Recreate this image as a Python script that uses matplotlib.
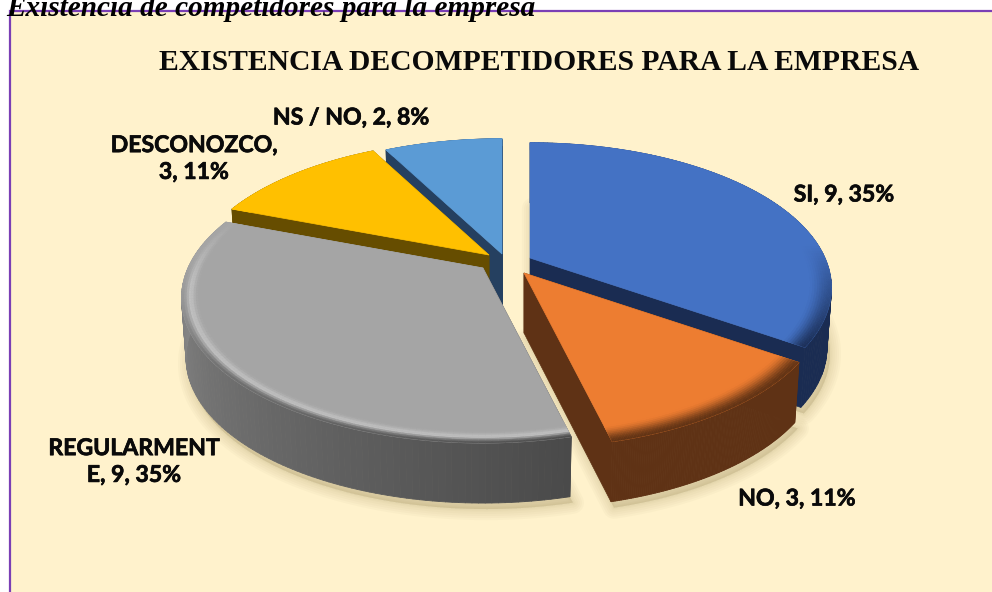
import numpy as np
import matplotlib
matplotlib.use("Agg")
import matplotlib.pyplot as plt
import matplotlib.patheffects as pe
from matplotlib.patches import Polygon, Rectangle
from matplotlib.collections import PolyCollection
from matplotlib.colors import to_rgb

# ---- data ----
categories = ["SI", "NO", "REGULARMENTE", "DESCONOZCO", "NS / NO"]
values = [9, 3, 9, 3, 2]
percents = [35, 11, 35, 11, 8]
label_breaks = [" ", " ", "REGULARMENT\nE", "DESCONOZCO,\n", " "]
caption = "Existencia de competidores para la empresa"
title = "EXISTENCIA DECOMPETIDORES PARA LA EMPRESA"

# ---- style ----
top_colors = ["#4472C4", "#ED7D31", "#A5A5A5", "#FFC000", "#5B9BD5"]
wall_start = ["#1A2C52", "#5F3215", "#4A4A4A", "#664D00", "#254060"]
wall_end = ["#1A2C52", "#5F3215", "#939393", "#664D00", "#254060"]
highlight = [0.0, 0.0, 0.3, 0.0, 0.0]
apex_px = [(530, 258), (524, 273), (483, 268), (489, 255), (502, 254)]
label_pos = [(844, 195), (797, 499), (134, 462), (194, 159), (351, 118)]
draw_order = [4, 3, 0, 2, 1]
RX, RY, K = 295.0, 139.0, 0.206
WALL = 60.0
BG = "#FFF2CC"
PURPLE = "#7A3FB5"


def project(theta, r=1.0):
    u = r * np.sin(theta)
    v = -r * np.cos(theta)
    w = 1 - K * v
    return RX * u / w, RY * v / w


def top_pt(apex, theta, r=1.0):
    dx, dy = project(theta, r)
    return np.column_stack([apex[0] + dx, apex[1] + dy])


def bottom_pt(apex, theta, r=1.0):
    dx, dy = project(theta, r)
    return np.column_stack([apex[0] + 0.985 * dx, apex[1] + 1.0 * dy + WALL])


def lerp(a, b, t):
    return tuple((1 - t) * x + t * y for x, y in zip(a, b))


fig = plt.figure(figsize=(9.92, 5.92), dpi=100, facecolor="white")
ax = fig.add_axes([0, 0, 1, 1])
ax.set_xlim(0, 992)
ax.set_ylim(592, 0)
ax.axis("off")

ax.add_patch(Rectangle((9.5, 11), 1000, 600, facecolor=BG, edgecolor=PURPLE, lw=1.6, zorder=0))

fracs = np.array(values) / sum(values)
edges = np.concatenate([[0], np.cumsum(fracs)]) * 2 * np.pi

# soft drop shadows
z = 1
for i in [0, 1, 2]:
    th = np.linspace(edges[i], edges[i + 1], 120)
    ap = apex_px[i]
    pts = np.vstack([[ap[0], ap[1] + WALL], bottom_pt(ap, th)]) + np.array([3, 6])
    for lw in [16, 13, 10, 7, 4, 2]:
        ax.add_patch(Polygon(pts, closed=True, facecolor="#8A7A45", edgecolor="#8A7A45",
                             alpha=0.035, lw=lw, joinstyle="round", zorder=z))

z = 2
for i in draw_order:
    a0, a1 = edges[i], edges[i + 1]
    ap = apex_px[i]
    top_c = to_rgb(top_colors[i])
    ws, we = to_rgb(wall_start[i]), to_rgb(wall_end[i])
    th = np.linspace(a0, a1, 121)

    # radial cut faces
    for a, col in ((a0, ws), (a1, we)):
        rim_t = top_pt(ap, np.array([a]))[0]
        rim_b = bottom_pt(ap, np.array([a]))[0]
        ax.add_patch(Polygon([ap, rim_t, rim_b, (ap[0], ap[1] + WALL)], closed=True,
                             facecolor=col, edgecolor=col, lw=0.5, zorder=z))
    # outer wall, one strip per angular step
    rt, rb = top_pt(ap, th), bottom_pt(ap, th)
    quads, cols = [], []
    for j in range(len(th) - 1):
        quads.append([rt[j], rt[j + 1], rb[j + 1], rb[j]])
        cols.append(lerp(ws, we, j / (len(th) - 2)))
    ax.add_collection(PolyCollection(quads, facecolors=cols, edgecolors=cols, linewidths=0.6, zorder=z))
    z += 1

    # top face
    ax.add_patch(Polygon(np.vstack([ap, rt]), closed=True, facecolor=top_c, edgecolor=top_c,
                         lw=0.5, zorder=z))
    z += 1

    # rounded rim
    rs = np.linspace(0.925, 1.0, 11)
    quads, cols = [], []
    for j in range(len(th) - 1):
        mid = 0.5 * (th[j] + th[j + 1])
        v = -np.cos(mid)
        f = np.clip((v + 0.1) / 0.7, 0, 1)
        wc = lerp(ws, we, j / (len(th) - 2))
        for q in range(len(rs) - 1):
            t = (q + 0.5) / (len(rs) - 1)
            bump = np.exp(-((t - 0.62) / 0.18) ** 2)
            c = lerp(top_c, (1, 1, 1), highlight[i] * bump * np.clip((v + 0.4) / 0.5, 0, 1))
            s = np.clip((t - 0.62) / 0.38, 0, 1) if highlight[i] else np.clip(t, 0, 1)
            c = lerp(c, wc, f * s * s * (3 - 2 * s))
            p0 = top_pt(ap, np.array([th[j], th[j + 1]]), rs[q])
            p1 = top_pt(ap, np.array([th[j], th[j + 1]]), rs[q + 1])
            quads.append([p0[0], p0[1], p1[1], p1[0]])
            cols.append(c)
    ax.add_collection(PolyCollection(quads, facecolors=cols, edgecolors=cols, linewidths=0.3, zorder=z))
    z += 1

# labels
for i, (cat, val, pct) in enumerate(zip(categories, values, percents)):
    brk = label_breaks[i]
    if "\n" in brk and brk.endswith("\n"):
        txt = f"{brk}{val}, {pct}%"
    elif "\n" in brk:
        txt = f"{brk}, {val}, {pct}%"
    else:
        txt = f"{cat}, {val}, {pct}%"
    ax.text(label_pos[i][0], label_pos[i][1], txt, family="Lato", weight="bold", fontsize=16.6,
            color="#0A0A0A", ha="center", va="center", linespacing=1.34, zorder=100,
            path_effects=[pe.withStroke(linewidth=0.5, foreground="#0A0A0A")])

ax.text(539, 62, title, family="Liberation Serif", weight="bold", fontsize=21.3,
        color="#0A0A0A", ha="center", va="center", zorder=100)
ax.text(6, 16.5, caption, family="Liberation Serif", weight="bold", style="italic", fontsize=21.1,
        color="black", ha="left", va="baseline", zorder=100)

fig.savefig("out.png", dpi=100, facecolor="white")
